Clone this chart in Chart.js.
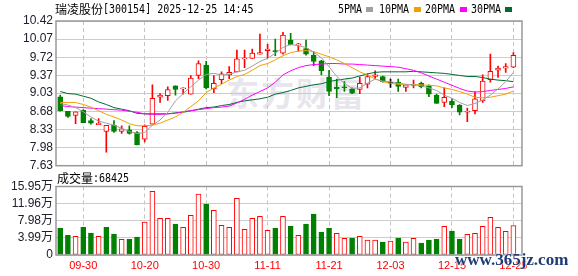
<!DOCTYPE html>
<html><head><meta charset="utf-8">
<script src="https://cdn.jsdelivr.net/npm/chart.js@4.4.0/dist/chart.umd.min.js"></script>
<style>
html,body{margin:0;padding:0;background:#fff}
body{width:578px;height:276px;overflow:hidden;position:relative;font-family:"Noto Sans CJK SC",sans-serif}
canvas{position:absolute;left:0}
#c1{top:0}
#c2{top:176px}
.t{position:absolute;white-space:nowrap;font-size:12px;line-height:14px;color:#000;font-family:"Noto Sans CJK SC",sans-serif}
.m{position:absolute;white-space:nowrap;font-family:"DejaVu Sans Mono",monospace;font-size:12px;line-height:14px;color:#000;transform:scaleX(0.833);transform-origin:0 50%}
.sq{position:absolute;width:7px;height:5px}
.wm{position:absolute;white-space:nowrap;font-family:"Noto Sans CJK SC",sans-serif;font-weight:bold;font-size:33px;line-height:36px;color:#e6e6ec;letter-spacing:2px}
.site{position:absolute;white-space:nowrap;font-family:"Liberation Serif",serif;font-weight:bold;font-size:17px;line-height:18px;color:#1f3c78;text-shadow:0 0 2px #fff,0 0 2px #fff}
</style></head><body>
<div class="wm" style="left:226px;top:74px">东方财富</div>
<canvas id="c1" width="578" height="176"></canvas>
<canvas id="c2" width="578" height="100"></canvas>
<div class="t" style="left:55px;top:2px">瑞凌股份</div>
<div class="m" style="left:103px;top:2px">[300154] 2025-12-25 14:45</div>
<div class="m" style="left:338px;top:2px">5PMA</div><div class="sq" style="left:366px;top:7px;background:#a0a0a0"></div>
<div class="m" style="left:379px;top:2px">10PMA</div><div class="sq" style="left:414px;top:7px;background:#f0a000"></div>
<div class="m" style="left:425px;top:2px">20PMA</div><div class="sq" style="left:460px;top:7px;background:#ff00ff"></div>
<div class="m" style="left:471px;top:2px">30PMA</div><div class="sq" style="left:505px;top:7px;background:#006b33"></div>
<div class="t" style="left:57px;top:171px">成交量</div>
<div class="m" style="left:93px;top:171px">:68425</div>
<div class="site" style="left:455px;top:251px">www.365jz.com</div>
<script>
const dates = ['09-25','09-26','09-29','09-30','10-09','10-10','10-13','10-14','10-15','10-16','10-17','10-20','10-21','10-22','10-23','10-24','10-27','10-28','10-29','10-30','10-31','11-03','11-04','11-05','11-06','11-07','11-10','11-11','11-12','11-13','11-14','11-17','11-18','11-19','11-20','11-21','11-24','11-25','11-26','11-27','11-28','12-01','12-02','12-03','12-04','12-05','12-08','12-09','12-10','12-11','12-12','12-15','12-16','12-17','12-18','12-19','12-22','12-23','12-24','12-25'];
const labelDates = ['09-30','10-20','10-30','11-11','11-21','12-03','12-15','12-25'];
const openP  = [8.96,8.68,8.60,8.70,8.50,8.42,8.29,8.41,8.29,8.32,8.27,8.14,8.43,8.95,8.98,9.17,9.11,9.01,9.37,9.57,9.11,9.29,9.38,9.44,9.69,9.70,9.78,9.85,9.85,9.80,10.05,9.96,9.89,9.76,9.65,9.34,9.14,9.15,9.11,9.10,9.20,9.35,9.35,9.22,9.24,9.14,9.18,9.22,9.17,8.99,8.85,8.87,8.80,8.66,8.69,8.88,9.29,9.47,9.51,9.53];
const closeP = [8.69,8.58,8.67,8.46,8.45,8.45,8.41,8.29,8.34,8.25,8.03,8.39,8.93,8.99,9.10,9.10,9.13,9.32,9.60,9.13,9.22,9.40,9.43,9.69,9.71,9.80,9.81,9.88,9.83,10.15,9.96,9.98,9.78,9.64,9.46,9.06,9.11,9.13,9.03,9.22,9.35,9.38,9.25,9.22,9.16,9.19,9.20,9.15,9.01,8.83,8.95,8.80,8.66,8.68,8.92,9.26,9.45,9.51,9.54,9.76];
const highP  = [8.99,8.68,8.67,8.71,8.54,8.54,8.41,8.50,8.40,8.40,8.29,8.42,9.19,9.02,9.15,9.17,9.13,9.37,9.65,9.64,9.37,9.44,9.54,9.86,9.86,9.88,10.17,9.97,10.07,10.20,10.18,9.99,10.05,9.82,9.66,9.47,9.30,9.25,9.13,9.34,9.40,9.46,9.36,9.30,9.30,9.19,9.28,9.24,9.19,9.01,9.13,8.91,8.81,8.74,9.06,9.38,9.78,9.55,9.60,9.81];
const lowP   = [8.68,8.56,8.44,8.46,8.43,8.42,7.89,8.27,8.25,8.24,8.03,8.09,8.43,8.85,8.89,8.99,9.01,9.01,9.31,9.11,9.04,9.21,9.31,9.44,9.52,9.70,9.78,9.71,9.75,9.78,9.96,9.84,9.76,9.56,9.38,8.98,8.94,9.06,9.02,9.02,9.13,9.31,9.24,9.14,9.06,9.06,9.13,9.13,8.96,8.83,8.77,8.75,8.61,8.48,8.63,8.85,9.24,9.33,9.43,9.52];
const ma5  = [8.83,8.80,8.75,8.67,8.57,8.49,8.45,8.41,8.35,8.29,8.25,8.27,8.41,8.51,8.66,8.88,9.02,9.15,9.28,9.39,9.41,9.38,9.39,9.44,9.47,9.55,9.64,9.70,9.80,9.91,9.97,9.94,9.91,9.82,9.71,9.54,9.35,9.22,9.12,9.13,9.22,9.30,9.26,9.25,9.22,9.20,9.19,9.17,9.13,9.08,8.99,8.93,8.85,8.79,8.83,8.90,8.99,9.11,9.25,9.43];
const ma10 = [8.85,8.85,8.85,8.81,8.76,8.69,8.62,8.57,8.51,8.44,8.40,8.40,8.41,8.45,8.51,8.57,8.66,8.77,8.88,9.04,9.13,9.20,9.28,9.35,9.39,9.47,9.56,9.60,9.67,9.75,9.81,9.84,9.85,9.83,9.78,9.73,9.67,9.60,9.52,9.44,9.38,9.30,9.25,9.22,9.20,9.19,9.19,9.19,9.18,9.17,9.13,9.10,9.06,9.01,8.95,8.94,8.95,8.98,9.01,9.07];
const ma20 = [8.79,8.77,8.76,8.75,8.74,8.73,8.72,8.71,8.70,8.68,8.66,8.63,8.62,8.62,8.63,8.64,8.67,8.69,8.71,8.73,8.75,8.76,8.78,8.84,8.91,8.99,9.06,9.13,9.24,9.38,9.46,9.52,9.56,9.58,9.59,9.60,9.60,9.59,9.59,9.58,9.57,9.56,9.55,9.54,9.53,9.50,9.47,9.42,9.36,9.30,9.24,9.18,9.12,9.07,9.05,9.06,9.08,9.10,9.12,9.15];
const ma30 = [9.06,9.02,9.01,8.97,8.93,8.86,8.81,8.75,8.72,8.69,8.64,8.63,8.63,8.63,8.63,8.65,8.66,8.69,8.72,8.75,8.76,8.79,8.81,8.85,8.88,8.90,8.92,8.95,9.01,9.04,9.08,9.13,9.16,9.19,9.21,9.25,9.28,9.30,9.32,9.36,9.40,9.43,9.44,9.44,9.44,9.44,9.45,9.44,9.43,9.42,9.41,9.39,9.37,9.35,9.35,9.33,9.30,9.28,9.27,9.25];
const volume = [6.21,4.58,4.35,6.44,5.12,4.35,6.44,4.89,3.65,3.65,4.19,7.68,14.82,8.54,8.54,7.22,6.44,9.24,14.20,11.87,10.40,6.91,6.44,13.19,5.98,8.54,9.00,5.74,6.21,9.00,6.75,4.58,7.22,9.55,5.36,6.29,5.04,3.88,3.96,4.35,3.49,3.49,3.03,3.26,3.96,3.03,3.88,2.79,3.49,3.73,6.67,5.59,3.73,4.81,5.04,6.67,8.77,6.44,5.51,6.84];
const volUp = [0,0,1,0,0,1,0,0,1,0,0,1,1,1,1,0,1,1,1,0,1,1,1,1,1,1,1,1,0,1,0,1,0,0,0,0,1,1,0,1,1,1,0,1,0,1,1,0,0,0,1,0,0,1,1,1,1,1,1,1];
const priceTicks = [7.63,7.98,8.33,8.68,9.03,9.37,9.72,10.07,10.42];
const volTicks = [0,3.99,7.98,11.96,15.95];

const RED = '#ff0000', GREEN = '#008000', BLACK = '#000000';
const tickIdx = labelDates.map(d => dates.indexOf(d));
const candleColor = openP.map((o,i) => closeP[i] > o ? RED : (closeP[i] < o ? GREEN : BLACK));
const bodyFill = openP.map((o,i) => closeP[i] > o ? '#ffffff' : candleColor[i]);

const framePlugin = {
  id: 'frame',
  afterDraw(chart) {
    const a = chart.chartArea, ctx = chart.ctx;
    ctx.save();
    ctx.strokeStyle = '#999999';
    ctx.lineWidth = 1.5;
    ctx.strokeRect(a.left, a.top, a.right - a.left, a.bottom - a.top);
    ctx.restore();
  }
};

const xMin = -0.55, xMax = 60.12;
const labelFont = {family: '"Liberation Sans","Noto Sans CJK SC",sans-serif', size: 12};

function xScale(showLabels) {
  return {
    type: 'linear', min: xMin, max: xMax, offset: false,
    afterBuildTicks(s) { s.ticks = tickIdx.map(v => ({value: v})); },
    afterFit(s) { s.height = showLabels ? 21 : 0; },
    grid: {color: '#c4c4c4', lineWidth: 1, drawTicks: false, offset: false},
    border: {display: false, dash: [4, 3]},
    ticks: {display: showLabels, autoSkip: false, maxRotation: 0, padding: 4,
      color: '#ff0000', font: {family: '"Liberation Sans",sans-serif', size: 11},
      callback: v => dates[v] || ''}
  };
}

Chart.defaults.animation = false;

new Chart(document.getElementById('c1'), {
  type: 'bar',
  data: {
    datasets: [
      {type: 'line', label: '5PMA', data: ma5.map((v,i)=>({x:i,y:v})), borderColor: '#a0a0a0', borderWidth: 1, pointRadius: 0, tension: 0, order: 0},
      {type: 'line', label: '10PMA', data: ma10.map((v,i)=>({x:i,y:v})), borderColor: '#f0a000', borderWidth: 1, pointRadius: 0, tension: 0, order: 0},
      {type: 'line', label: '20PMA', data: ma20.map((v,i)=>({x:i,y:v})), borderColor: '#ff00ff', borderWidth: 1, pointRadius: 0, tension: 0, order: 0},
      {type: 'line', label: '30PMA', data: ma30.map((v,i)=>({x:i,y:v})), borderColor: '#006b33', borderWidth: 1, pointRadius: 0, tension: 0, order: 0},
      {label: 'body', data: openP.map((o,i)=>({x:i,y:[o, closeP[i]]})), backgroundColor: bodyFill, borderColor: candleColor, borderWidth: 1, borderSkipped: false, barThickness: 5, minBarLength: 1, grouped: false, order: 1},
      {label: 'wick', data: lowP.map((l,i)=>({x:i,y:[l, highP[i]]})), backgroundColor: candleColor, borderWidth: 0, barThickness: 1, grouped: false, order: 2}
    ]
  },
  options: {
    responsive: false, devicePixelRatio: 1, animation: false,
    layout: {padding: {top: 21, right: 56, bottom: 10.3, left: 0}},
    plugins: {legend: {display: false}, tooltip: {enabled: false}},
    scales: {
      x: xScale(false),
      y: {
        type: 'linear', min: priceTicks[0], max: priceTicks[priceTicks.length-1],
        afterBuildTicks(s) { s.ticks = priceTicks.map(v => ({value: v})); },
        afterFit(s) { s.width = 56; },
        grid: {color: '#cccccc', lineWidth: 1, drawTicks: false},
        border: {display: false},
        ticks: {padding: 3, autoSkip: false, color: '#20202c', font: labelFont, callback: v => v.toFixed(2)}
      }
    }
  },
  plugins: [framePlugin]
});

new Chart(document.getElementById('c2'), {
  type: 'bar',
  data: {
    datasets: [
      {label: 'vol', data: volume.map((v,i)=>({x:i,y:v})),
       backgroundColor: volUp.map(u => u ? '#ffffff' : GREEN),
       borderColor: volUp.map(u => u ? RED : GREEN),
       borderWidth: 1, borderSkipped: false, barThickness: 5, grouped: false}
    ]
  },
  options: {
    responsive: false, devicePixelRatio: 1, animation: false,
    layout: {padding: {top: 10.5, right: 56, bottom: 0, left: 0}},
    plugins: {legend: {display: false}, tooltip: {enabled: false}},
    scales: {
      x: xScale(true),
      y: {
        type: 'linear', min: volTicks[0], max: volTicks[volTicks.length-1],
        afterBuildTicks(s) { s.ticks = volTicks.map(v => ({value: v})); },
        afterFit(s) { s.width = 56; },
        grid: {color: '#cccccc', lineWidth: 1, drawTicks: false},
        border: {display: false},
        ticks: {padding: 3, autoSkip: false, color: '#20202c', font: labelFont, callback: v => v === 0 ? '0' : v.toFixed(2) + '万'}
      }
    }
  },
  plugins: [framePlugin]
});
</script>
</body></html>
